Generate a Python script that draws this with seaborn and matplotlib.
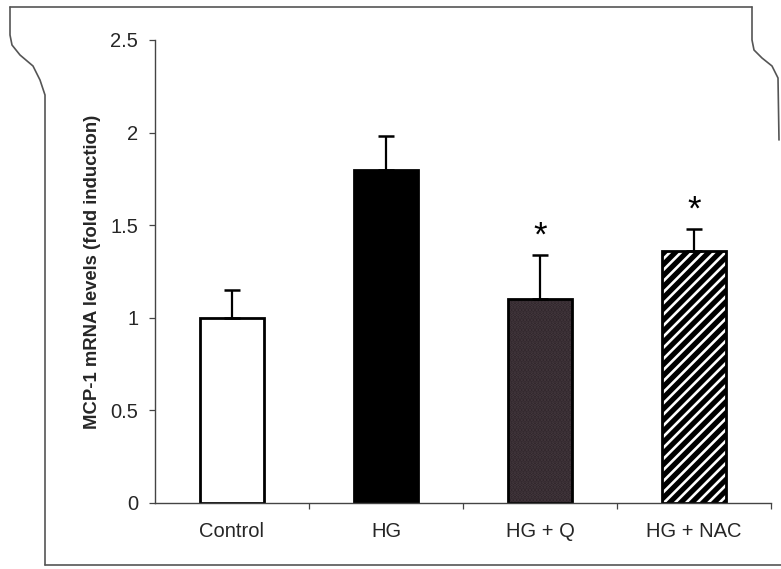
import matplotlib
matplotlib.use("Agg")
import matplotlib.pyplot as plt
from matplotlib.patches import Rectangle
from matplotlib.lines import Line2D
import seaborn as sns
import pandas as pd

# Group labels, mean fold induction and upper SEM per group
groups = ["Control", "HG", "HG + Q", "HG + NAC"]
means = [1.00, 1.80, 1.10, 1.36]
sems = [0.15, 0.18, 0.24, 0.12]
significant = [False, False, True, True]

y_ticks = [0, 0.5, 1, 1.5, 2, 2.5]
y_ticklabels = ["0", "0.5", "1", "1.5", "2", "2.5"]
y_label = "MCP-1 mRNA levels (fold induction)"

bar_colors = ["#ffffff", "#000000", "#2b1f26", "#000000"]

sns.set_style("white")
plt.rcParams["font.family"] = ["Liberation Sans", "DejaVu Sans"]
plt.rcParams["hatch.linewidth"] = 1.9

df = pd.DataFrame({"group": groups, "mean": means})

fig = plt.figure(figsize=(7.81, 5.69), dpi=100)
W, H = 781, 569
ax = fig.add_axes([155 / W, 1 - 503 / H, 616 / W, 463 / H])

sns.barplot(data=df, x="group", y="mean", hue="group", palette=bar_colors,
            order=groups, hue_order=groups, legend=False, errorbar=None,
            width=0.42, edgecolor="black", linewidth=2.0, ax=ax)

bars = list(ax.patches)
# dotted texture on HG + Q
bars[2].set_hatch(".....")
bars[2].set_edgecolor("#463a40")
bars[2].set_linewidth(0)
# white diagonal stripes on HG + NAC
bars[3].set_hatch("///")
bars[3].set_edgecolor("white")
bars[3].set_linewidth(0)
for b in bars[2:]:
    ax.add_patch(Rectangle(b.get_xy(), b.get_width(), b.get_height(),
                           fill=False, edgecolor="black", linewidth=2.0,
                           zorder=b.get_zorder() + 0.1))

# one-sided (upper) error bars
ax.errorbar(range(len(groups)), means, yerr=[[0] * len(groups), sems],
            fmt="none", ecolor="black", elinewidth=1.6, capsize=6,
            capthick=1.8, zorder=1)

# significance marks above the error bars
for i, (m, s, sig) in enumerate(zip(means, sems, significant)):
    if sig:
        ax.text(i, m + s + 0.05, "*", ha="center", va="baseline",
                fontsize=25, color="black")

ax.set_xlim(-0.5, len(groups) - 0.5)
ax.set_ylim(0, 2.5)
ax.set_yticks(y_ticks)
ax.set_yticklabels(y_ticklabels)
ax.set_xticks(range(len(groups)))
ax.set_xticklabels(groups)
ax.set_xticks([i + 0.5 for i in range(len(groups))], minor=True)
ax.tick_params(axis="x", which="major", length=0, pad=14, labelsize=14.5)
ax.tick_params(axis="x", which="minor", direction="out", length=4,
               width=0.9, color="#444444", bottom=True)
ax.tick_params(axis="y", direction="out", length=4, width=0.9,
               color="#444444", left=True, pad=8, labelsize=14.5)
ax.set_xlabel("")
ax.set_ylabel(y_label, fontsize=13.3, fontweight="bold", labelpad=7)

sns.despine(ax=ax)
for side in ("left", "bottom"):
    ax.spines[side].set_color("#444444")
    ax.spines[side].set_linewidth(1.0)
ax.set_facecolor("none")


def px_line(xs, ys, **kw):
    fig.add_artist(Line2D([x / W for x in xs], [1 - y / H for y in ys],
                          transform=fig.transFigure, **kw))


# page border
border = dict(color="#555555", linewidth=1.2)
px_line([10, 752], [7, 7], **border)
px_line([10, 10, 12, 20, 33, 40, 45, 45], [7, 35, 45, 55, 66, 80, 95, 565], **border)
px_line([45, 781], [565, 565], **border)
px_line([752, 752, 754, 762, 772, 778, 779], [7, 40, 50, 58, 66, 78, 140], **border)

fig.savefig("out.png", dpi=100)
